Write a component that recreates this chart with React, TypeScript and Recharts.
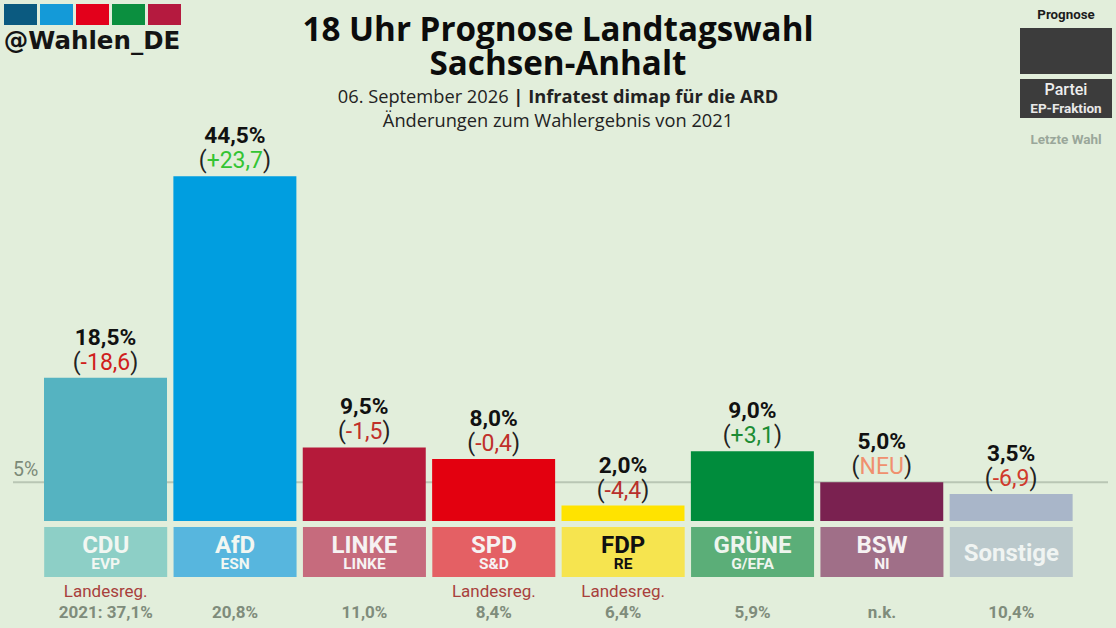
import React from "react";
import { BarChart, Bar, XAxis, YAxis, Cell, LabelList, ReferenceLine } from "recharts";

const parties = ["CDU", "AfD", "LINKE", "SPD", "FDP", "GRÜNE", "BSW", "Sonstige"];
const fractions = ["EVP", "ESN", "LINKE", "S&D", "RE", "G/EFA", "NI", ""];
const shares = [18.5, 44.5, 9.5, 8.0, 2.0, 9.0, 5.0, 3.5];
const changes = ["-18,6", "+23,7", "-1,5", "-0,4", "-4,4", "+3,1", "NEU", "-6,9"];
const lastResults = ["2021: 37,1%", "20,8%", "11,0%", "8,4%", "6,4%", "5,9%", "n.k.", "10,4%"];
const government = [true, false, false, true, true, false, false, false];
const barColors = ["#55b3c1", "#009ee0", "#b51a3a", "#e3000f", "#ffe300", "#008c3c", "#7a2150", "#a9b6c9"];
const tagColors = ["#8dcfc6", "#57b6de", "#c66b7d", "#e46064", "#f6e44f", "#5bae78", "#a06f88", "#bbc9cc"];
const tagTextColors = ["#f2f7f2", "#f2f7f2", "#f6f2f2", "#f6f2f2", "#111111", "#eef5ee", "#f6f2f2", "#f0f4f2"];
const changeColors = ["#d0201c", "#33c433", "#c0302a", "#c0302a", "#b8302c", "#1c8c34", "#f0906e", "#d03a2c"];
const logoColors = ["#0b5a80", "#149ad8", "#e3001b", "#0b8f3f", "#b51a3f"];
const data = parties.map((name, i) => ({ name, value: shares[i] }));

const BG = "#e2eedb";
const roboto = "Roboto, sans-serif";
const openSans = "'Open Sans', sans-serif";
const TAG_W = 123;

const comma = (v: number) => v.toFixed(1).replace(".", ",") + "%";

function ValueLabel(p: any) {
  const { x, y, width, index } = p;
  const cx = x + width / 2;
  return (
    <g fontFamily={roboto} textAnchor="middle">
      <text x={cx} y={y - 33} fontSize={22.7} fontWeight={700} fill="#111">{comma(shares[index])}</text>
      <text x={cx} y={y - 8} fontSize={23} fill="#222">
        (<tspan fill={changeColors[index]}>{changes[index]}</tspan>)
      </text>
    </g>
  );
}

function PartyTick(p: any) {
  const { x, y, index } = p;
  const hasFraction = fractions[index] !== "";
  const color = tagTextColors[index];
  return (
    <g fontFamily={roboto} textAnchor="middle">
      <rect x={x - TAG_W / 2} y={y + 4} width={TAG_W} height={50} fill={tagColors[index]} />
      <text x={x} y={y + (hasFraction ? 30 : 38)} fontSize={24} fontWeight={700} fill={color}>{parties[index]}</text>
      {hasFraction && <text x={x} y={y + 46} fontSize={15.5} fontWeight={700} fill={color}>{fractions[index]}</text>}
      {government[index] && <text x={x} y={y + 74} fontSize={17} fill="#a8403c">Landesreg.</text>}
      <text x={x} y={y + 95} fontSize={17} fontWeight={700} fill="#7f8c7b">{lastResults[index]}</text>
    </g>
  );
}

function FiveLabel(p: any) {
  const { x, y } = p.viewBox;
  return <text x={x} y={y - 6} fontFamily={roboto} fontSize={19.5} fill="#7c8a78">5%</text>;
}

const abs = (left: number, top: number, width: number, extra: React.CSSProperties = {}): React.CSSProperties => ({
  position: "absolute", left, top, width, textAlign: "center", whiteSpace: "nowrap", ...extra,
});

export default function App() {
  return (
    <div style={{ position: "absolute", left: 0, top: 0, width: 1116, height: 628, background: BG, overflow: "hidden" }}>
      {logoColors.map((c, i) => (
        <div key={c} style={{ position: "absolute", left: 4 + i * 35.9, top: 4, width: 33, height: 21, background: c }} />
      ))}
      <div style={abs(0, 26, 184, { fontFamily: "'DejaVu Sans', sans-serif", fontWeight: 700, fontSize: 24.5, lineHeight: "30px", color: "#141414" })}>@Wahlen_DE</div>
      <div style={abs(258, 12, 600, { fontFamily: openSans, fontWeight: 700, fontSize: 33.2, lineHeight: "34px", color: "#0c0c0c" })}>
        18 Uhr Prognose Landtagswahl<br />Sachsen-Anhalt
      </div>
      <div style={abs(258, 84, 600, { fontFamily: openSans, fontSize: 18.25, lineHeight: "24px", color: "#222" })}>
        06. September 2026 <b>| Infratest dimap für die ARD</b><br />Änderungen zum Wahlergebnis von 2021
      </div>
      <div style={abs(1020, 7, 92, { fontFamily: roboto, fontWeight: 700, fontSize: 13.3, lineHeight: "16px", color: "#1c1c1c" })}>Prognose</div>
      <div style={{ position: "absolute", left: 1020, top: 28, width: 92, height: 46, background: "#3c3c3c" }} />
      <div style={{ position: "absolute", left: 1020, top: 79, width: 92, height: 39, background: "#3c3c3c" }} />
      <div style={abs(1020, 81, 92, { fontFamily: roboto, fontWeight: 500, fontSize: 16, lineHeight: "18px", color: "#eee" })}>Partei</div>
      <div style={abs(1020, 100, 92, { fontFamily: roboto, fontWeight: 700, fontSize: 13.5, lineHeight: "16px", color: "#e8e8e8" })}>EP-Fraktion</div>
      <div style={abs(1020, 131, 92, { fontFamily: roboto, fontWeight: 700, fontSize: 13.5, lineHeight: "16px", color: "#9aa79a" })}>Letzte Wahl</div>

      <div style={{ position: "absolute", left: 0, top: 0 }}>
        <BarChart
          width={1116}
          height={628}
          data={data}
          margin={{ top: 133.5, right: 8, bottom: 0, left: 13 }}
          barCategoryGap={3.2}
        >
          <XAxis
            dataKey="name"
            height={107}
            interval={0}
            axisLine={false}
            tickLine={false}
            tickSize={0}
            padding={{ left: 28, right: 32 }}
            tick={<PartyTick />}
          />
          <YAxis hide domain={[0, 50]} />
          <ReferenceLine y={5} stroke="#b9c6b4" strokeWidth={2} label={<FiveLabel />} {...({ zIndex: 100 } as any)} />
          <Bar dataKey="value" isAnimationActive={false} barSize={TAG_W}>
            {data.map((d, i) => <Cell key={d.name} fill={barColors[i]} />)}
            <LabelList dataKey="value" content={<ValueLabel />} />
          </Bar>
        </BarChart>
      </div>
    </div>
  );
}
